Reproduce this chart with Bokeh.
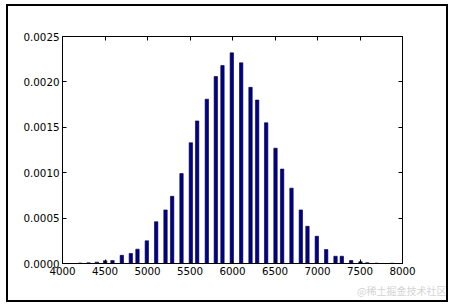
from bokeh.plotting import figure
from bokeh.models import (ColumnDataSource, LinearAxis, FixedTicker, PrintfTickFormatter,
                          CustomJSTickFormatter, Range1d, Title)
from bokeh.layouts import column
from bokeh.embed import file_html
from bokeh.resources import INLINE

# Data (bar centres and densities)
bin_centers = [4208, 4306, 4404, 4502, 4588, 4698, 4804, 4882, 4992, 5102, 5212, 5290,
               5400, 5510, 5584, 5698, 5804, 5882, 5992, 6102, 6212, 6290, 6396, 6506,
               6584, 6694, 6804, 6882, 6992, 7102, 7212, 7286, 7396, 7506, 7584, 7694, 7878]
densities = [0.000005, 0.000008, 0.000015, 0.00003, 0.000033, 0.00009, 0.00011, 0.000158,
             0.00025, 0.00046, 0.00059, 0.00074, 0.00099, 0.00133, 0.00157, 0.00181,
             0.00206, 0.00218, 0.00232, 0.00221, 0.00194, 0.0018, 0.00155, 0.00127,
             0.00104, 0.00083, 0.00059, 0.00041, 0.0003, 0.000154, 0.00008, 0.00008,
             0.000033, 0.00002, 0.000008, 0.000004, 0.000003]
x_ticks = [4000, 4500, 5000, 5500, 6000, 6500, 7000, 7500, 8000]
y_ticks = [0.0, 0.0005, 0.0010, 0.0015, 0.0020, 0.0025]
watermark = "@稀土掘金技术社区"

src = ColumnDataSource(dict(x=bin_centers, top=densities))

p = figure(width=438, height=294, output_backend="svg", toolbar_location=None,
           x_range=Range1d(4000, 8000), y_range=Range1d(0, 0.0025),
           min_border_left=54, min_border_right=44, min_border_top=30, min_border_bottom=37,
           x_axis_location=None, y_axis_location=None)
p.xgrid.visible = False
p.ygrid.visible = False
p.background_fill_color = "white"
p.border_fill_color = "white"
p.outline_line_color = "black"
p.outline_line_width = 1
p.outline_line_alpha = 1

p.vbar(x="x", top="top", bottom=0, width=40, source=src,
       fill_color="#00008b", line_color="#000030", line_width=0.6)

font = "DejaVu Sans"
def mk_axis(show_labels, ticks, fmt):
    if show_labels:
        f = PrintfTickFormatter(format=fmt)
    else:
        f = CustomJSTickFormatter(code="return '';")
    ax = LinearAxis(ticker=FixedTicker(ticks=ticks), formatter=f)
    ax.major_tick_in = 4
    ax.major_tick_out = 0
    ax.minor_tick_in = 0
    ax.minor_tick_out = 0
    ax.axis_line_color = "black"
    ax.major_tick_line_color = "black"
    ax.major_label_text_font = font
    ax.major_label_text_font_size = "10.3px"
    ax.major_label_text_color = "black"
    ax.major_label_standoff = 3 if show_labels else 0
    return ax

p.add_layout(mk_axis(True, x_ticks, "%d"), "below")
p.add_layout(mk_axis(True, y_ticks, "%.4f"), "left")
p.add_layout(mk_axis(False, x_ticks, "%d"), "above")
p.add_layout(mk_axis(False, y_ticks, "%.4f"), "right")

wm = Title(text=watermark, align="right", text_font="Noto Sans CJK SC",
           text_font_size="10px", text_color="#d4d4d4", text_font_style="normal",
           offset=-44, standoff=6)
p.add_layout(wm, "below")

layout = column(p, styles={"border": "2px solid black"}, margin=(4, 0, 0, 6))

open("out.html", "w").write(file_html(layout, INLINE))
